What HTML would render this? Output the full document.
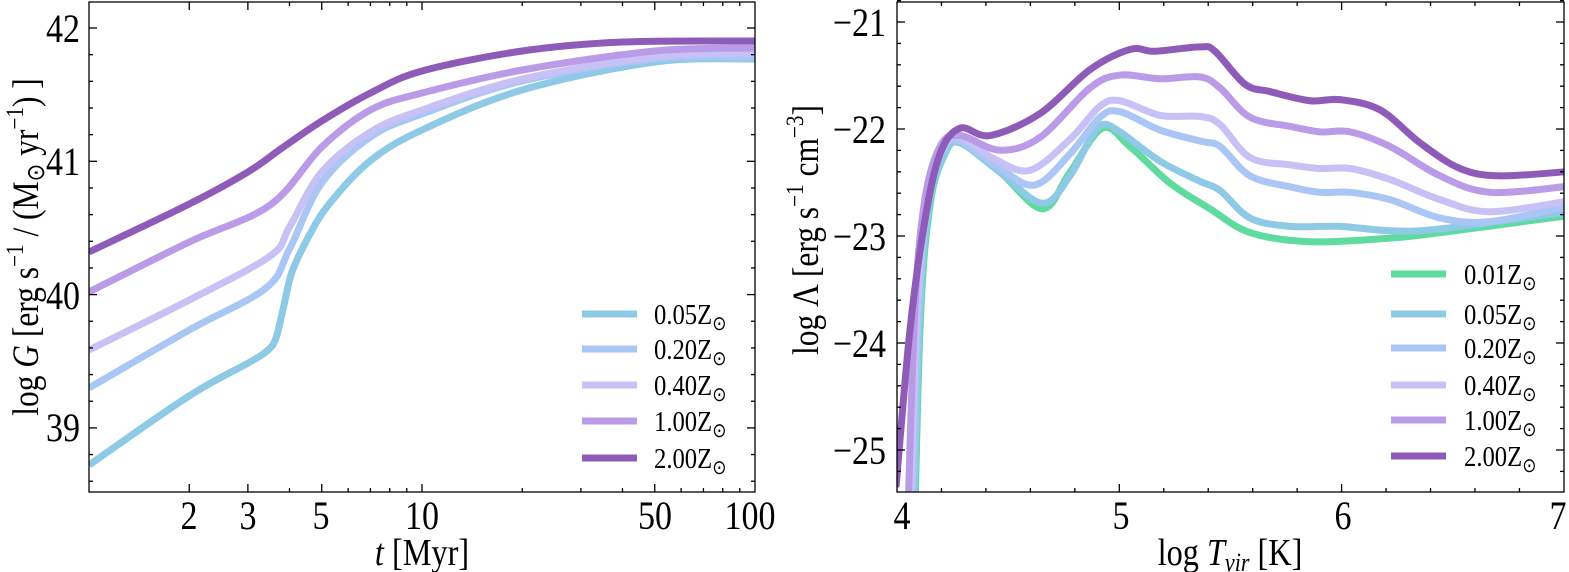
<!DOCTYPE html>
<html><head><meta charset="utf-8"><style>
html,body{margin:0;padding:0;background:#fff;overflow:hidden;width:1569px;height:572px;}
svg{display:block;font-family:"Liberation Serif",serif;}
</style></head><body>
<svg id="s" width="1569" height="572" viewBox="0 0 1569 572" xmlns="http://www.w3.org/2000/svg">
<defs>
<clipPath id="c1"><rect x="89" y="2" width="666" height="490"/></clipPath>
<clipPath id="c2"><rect x="897" y="2" width="667" height="490"/></clipPath>
</defs>
<g id="g1" clip-path="url(#c1)"></g>
<g id="g2" clip-path="url(#c2)"></g>
<g id="ax" stroke="#000" stroke-width="1.3" fill="none">
<rect x="89" y="2" width="666" height="490"/>
<rect x="897" y="2" width="667" height="490"/>
</g>
<g fill="#000" font-size="40">
<g transform="translate(80,42) scale(0.85,1)"><text text-anchor="end">42</text></g>
<g transform="translate(80,175) scale(0.85,1)"><text text-anchor="end">41</text></g>
<g transform="translate(80,309) scale(0.85,1)"><text text-anchor="end">40</text></g>
<g transform="translate(80,441) scale(0.85,1)"><text text-anchor="end">39</text></g>
<g transform="translate(189,529) scale(0.85,1)"><text text-anchor="middle">2</text></g>
<g transform="translate(248,529) scale(0.85,1)"><text text-anchor="middle">3</text></g>
<g transform="translate(321,529) scale(0.85,1)"><text text-anchor="middle">5</text></g>
<g transform="translate(422,529) scale(0.85,1)"><text text-anchor="middle">10</text></g>
<g transform="translate(655,529) scale(0.85,1)"><text text-anchor="middle">50</text></g>
<g transform="translate(750,529) scale(0.85,1)"><text text-anchor="middle">100</text></g>
<g transform="translate(422,565) scale(0.85,1)"><text text-anchor="middle" font-size="38"><tspan font-style="italic">t</tspan> [Myr]</text></g>
<g transform="translate(38,247) rotate(-90) scale(0.85,1)"><text text-anchor="middle" font-size="37">log <tspan font-style="italic">G</tspan> [erg s<tspan font-size="25" dy="-15">−1</tspan><tspan dy="15"> / (M</tspan><tspan font-size="25" dy="6">⊙</tspan><tspan dy="-6"> yr</tspan><tspan font-size="25" dy="-15">−1</tspan><tspan dy="15">) ]</tspan></text></g>
<g transform="translate(886,36) scale(0.85,1)"><text text-anchor="end">−21</text></g>
<g transform="translate(886,143) scale(0.85,1)"><text text-anchor="end">−22</text></g>
<g transform="translate(886,250) scale(0.85,1)"><text text-anchor="end">−23</text></g>
<g transform="translate(886,357) scale(0.85,1)"><text text-anchor="end">−24</text></g>
<g transform="translate(886,464) scale(0.85,1)"><text text-anchor="end">−25</text></g>
<g transform="translate(902,529) scale(0.85,1)"><text text-anchor="middle">4</text></g>
<g transform="translate(1121,529) scale(0.85,1)"><text text-anchor="middle">5</text></g>
<g transform="translate(1343,529) scale(0.85,1)"><text text-anchor="middle">6</text></g>
<g transform="translate(1558,529) scale(0.85,1)"><text text-anchor="middle">7</text></g>
<g transform="translate(1230,565) scale(0.85,1)"><text text-anchor="middle" font-size="38">log <tspan font-style="italic">T</tspan><tspan font-style="italic" font-size="26" dy="6">vir</tspan><tspan dy="-6"> [K]</tspan></text></g>
<g transform="translate(818,230) rotate(-90) scale(0.85,1)"><text text-anchor="middle" font-size="37">log Λ [erg s<tspan font-size="25" dy="-15">−1</tspan><tspan dy="15"> cm</tspan><tspan font-size="25" dy="-15">−3</tspan><tspan dy="15">]</tspan></text></g>
</g>
<g id="leg" font-size="29"></g>
</svg>
<script>
var NS="http://www.w3.org/2000/svg";
function el(p,t,a){var e=document.createElementNS(NS,t);for(var k in a)e.setAttribute(k,a[k]);p.appendChild(e);return e;}
function cr(pts){var d="M"+pts[0][0]+","+pts[0][1];for(var i=0;i<pts.length-1;i++){var p0=pts[i-1]||pts[i],p1=pts[i],p2=pts[i+1],p3=pts[i+2]||p2;
d+=" C"+(p1[0]+(p2[0]-p0[0])/6)+","+(p1[1]+(p2[1]-p0[1])/6)+" "+(p2[0]-(p3[0]-p1[0])/6)+","+(p2[1]-(p3[1]-p1[1])/6)+" "+p2[0]+","+p2[1];}return d;}
var C={a:"#5fdba0",b:"#8ec9e6",c:"#a9c6f5",d:"#c7c1f5",e:"#b99be8",f:"#8e5cb8"};
function tx(t){return 422+333*Math.log10(t/10);}
var L=[
["b",[[89,465],[189,396],[250,362],[268,350],[276,338],[284,305],[292,272],[310,234],[330,203],[370,161],[422,130],[522,90],[655,62],[755,59]],1],
["c",[[1,388],[2,330],[3.4,288],[4,249],[5,183],[7,137],[10,114],[20,81],[50,59],[100,57]]],
["d",[[1,350],[2,300],[3.5,256],[4,227],[5,172],[7,132],[10,110],[20,79],[50,57],[100,53]]],
["e",[[1,292],[2,242],[3.5,205],[5,147],[7,110],[10,93],[20,70],[50,51],[100,48]]],
["f",[[1,252],[2,204],[3,172],[3.8,148],[5,121],[7,93],[10,71],[20,51],[40,42],[100,41]]]];
var g1=document.getElementById("g1");
L.forEach(function(l){var pts=l[2]?l[1]:l[1].map(function(p){return[tx(p[0]),p[1]];});el(g1,"path",{d:cr(pts),stroke:C[l[0]],"stroke-width":7,fill:"none","stroke-linejoin":"round"});});
function zx(x){return 790+x/2;}function zy(y){return y/2.73;}
var R=[
["a",[[245,1700],[260,900],[280,560],[310,420],[340,390],[420,470],[505,570],[560,470],[625,350],[680,400],[760,500],[840,570],[920,635],[1040,660],[1200,650],[1300,635],[1560,588]]],
["b",[[243,1700],[258,900],[278,560],[310,420],[340,390],[420,470],[505,555],[560,480],[600,380],[625,340],[660,360],[740,440],[820,495],[860,520],[920,595],[1000,618],[1100,618],[1200,630],[1300,625],[1560,578]]],
["c",[[238,1700],[255,900],[275,560],[305,410],[340,385],[420,460],[490,505],[560,420],[620,320],[660,305],[740,355],[820,385],[860,400],[920,480],[1000,510],[1060,525],[1120,525],[1200,545],[1300,595],[1400,605],[1560,562]]],
["d",[[235,1700],[252,900],[272,560],[303,405],[340,375],[410,435],[480,465],[560,380],[620,290],[660,275],[740,315],[820,318],[860,340],[920,430],[1000,450],[1060,460],[1120,460],[1200,490],[1300,545],[1400,578],[1560,548]]],
["e",[[230,1700],[248,900],[268,560],[300,400],[340,370],[420,410],[500,375],[600,240],[660,205],[740,215],[820,210],[860,240],[920,320],[1000,345],[1060,360],[1120,360],[1200,400],[1300,480],[1400,525],[1560,508]]],
["f",[[212,1330],[240,900],[270,600],[300,420],[340,350],[400,370],[500,310],[600,190],[680,135],[730,140],[820,128],[850,140],[910,230],[960,250],[1040,275],[1100,272],[1180,300],[1260,390],[1340,460],[1420,480],[1560,468]]]];
var g2=document.getElementById("g2");
R.forEach(function(l){el(g2,"path",{d:cr(l[1].map(function(p){return[zx(p[0]),zy(p[1])];})),stroke:C[l[0]],"stroke-width":7,fill:"none","stroke-linejoin":"round"});});
var ax=document.getElementById("ax");
function tk(x1,y1,x2,y2){el(ax,"line",{x1:x1,y1:y1,x2:x2,y2:y2});}
for(var v=38.6;v<42.2;v+=0.2){var y=28+(42-v)*133.3;var maj=Math.abs(v-Math.round(v))<0.01;var l=maj?8:4;tk(89,y,89+l,y);tk(755,y,755-l,y);}
for(var dec=1;dec<=10;dec*=10)for(var m=1;m<10;m++){var t=m*dec;if(t<=1||t>=100)continue;var x=tx(t);var maj=[2,3,5,10,50].indexOf(t)>=0;var l=maj?8:4;tk(x,492,x,492-l);tk(x,2,x,2+l);}
for(var v=-25.2;v<-20.8;v+=0.2){var y=22+(-21-v)*107;var maj=Math.abs(v-Math.round(v))<0.01;var l=maj?8:4;tk(897,y,897+l,y);tk(1564,y,1564-l,y);}
for(var v=4.2;v<7;v+=0.2){var x=897+(v-4)*222.3;var maj=Math.abs(v-Math.round(v))<0.01;var l=maj?8:4;tk(x,492,x,492-l);tk(x,2,x,2+l);}
var leg=document.getElementById("leg");
function li(x1,x2,tx_,y,c,s){el(leg,"line",{x1:x1,x2:x2,y1:y,y2:y,stroke:C[c],"stroke-width":7});var g=el(leg,"g",{transform:"translate("+tx_+","+(y+10)+") scale(0.85,1)"});var t=el(g,"text",{});t.textContent=s+"Z";var ts=el(t,"tspan",{"font-size":"20",dy:"6"});ts.textContent="⊙";}
[["b","0.05",314],["c","0.20",349],["d","0.40",385],["e","1.00",421],["f","2.00",458]].forEach(function(a){li(582,637,654,a[2],a[0],a[1]);});
[["a","0.01",274],["b","0.05",314],["c","0.20",348],["d","0.40",385],["e","1.00",420],["f","2.00",456]].forEach(function(a){li(1391,1446,1464,a[2],a[0],a[1]);});
</script>
</body></html>
